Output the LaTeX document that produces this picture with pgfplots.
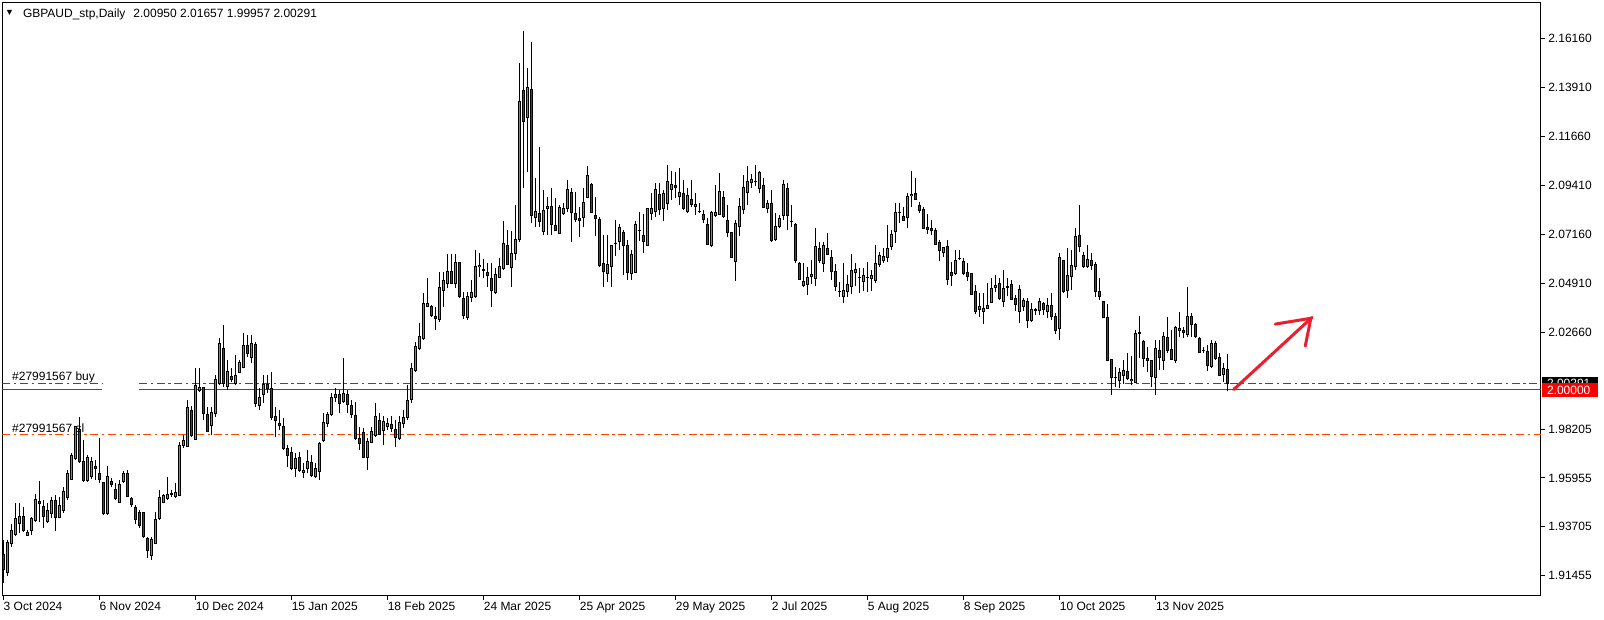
\documentclass[border=0pt]{standalone}
\usepackage{fontspec}
\setmainfont{Liberation Sans}
\usepackage{pgfplots}
\usepackage{pgfplotstable}
\pgfplotsset{compat=1.18}

\definecolor{bull}{RGB}{0,225,0}
\definecolor{bear}{RGB}{235,0,0}
\definecolor{buyline}{RGB}{0,128,0}
\definecolor{slline}{RGB}{255,69,0}
\definecolor{lvlred}{RGB}{255,0,0}
\definecolor{arrowred}{RGB}{235,30,45}

% daily candles, x = bar number from 3 Oct 2024
\pgfplotstableread{
x o h l c
0 1.9243 1.9309 1.9113 1.9174
1 1.9160 1.9309 1.9145 1.9298
2 1.9294 1.9383 1.9279 1.9352
3 1.9335 1.9481 1.9328 1.9409
4 1.9386 1.9481 1.9340 1.9417
5 1.9417 1.9463 1.9348 1.9352
6 1.9332 1.9358 1.9328 1.9344
7 1.9352 1.9417 1.9332 1.9407
8 1.9401 1.9521 1.9395 1.9496
9 1.9487 1.9581 1.9395 1.9476
10 1.9463 1.9493 1.9367 1.9420
11 1.9394 1.9478 1.9386 1.9444
12 1.9432 1.9508 1.9409 1.9492
13 1.9492 1.9516 1.9352 1.9413
14 1.9413 1.9508 1.9410 1.9469
15 1.9447 1.9555 1.9435 1.9532
16 1.9505 1.9631 1.9493 1.9616
17 1.9588 1.9711 1.9585 1.9699
18 1.9685 1.9833 1.9677 1.9830
19 1.9818 1.9876 1.9662 1.9670
20 1.9670 1.9769 1.9578 1.9585
21 1.9585 1.9700 1.9578 1.9691
22 1.9600 1.9692 1.9590 1.9670
23 1.9650 1.9680 1.9588 1.9637
24 1.9616 1.9777 1.9570 1.9588
25 1.9574 1.9578 1.9424 1.9432
26 1.9432 1.9650 1.9424 1.9604
27 1.9579 1.9593 1.9555 1.9565
28 1.9542 1.9570 1.9493 1.9501
29 1.9484 1.9585 1.9481 1.9564
30 1.9578 1.9628 1.9573 1.9616
31 1.9616 1.9634 1.9508 1.9508
32 1.9499 1.9508 1.9463 1.9473
33 1.9460 1.9470 1.9383 1.9404
34 1.9438 1.9447 1.9367 1.9378
35 1.9436 1.9441 1.9317 1.9325
36 1.9317 1.9325 1.9225 1.9260
37 1.9240 1.9325 1.9220 1.9312
38 1.9294 1.9440 1.9294 1.9404
39 1.9409 1.9539 1.9404 1.9507
40 1.9484 1.9521 1.9478 1.9513
41 1.9501 1.9601 1.9493 1.9521
42 1.9522 1.9539 1.9508 1.9520
43 1.9512 1.9570 1.9501 1.9528
44 1.9515 1.9761 1.9515 1.9743
45 1.9743 1.9792 1.9731 1.9769
46 1.9742 1.9953 1.9738 1.9919
47 1.9907 1.9925 1.9784 1.9792
48 1.9774 2.0103 1.9769 2.0021
49 1.9996 2.0103 1.9991 2.0011
50 2.0011 2.0011 1.9861 1.9892
51 1.9889 1.9922 1.9807 1.9807
52 1.9835 1.9922 1.9792 1.9896
53 1.9892 2.0068 1.9876 2.0048
54 2.0030 2.0237 2.0022 2.0214
55 2.0191 2.0298 2.0014 2.0030
56 2.0017 2.0137 1.9999 2.0083
57 2.0063 2.0099 2.0037 2.0048
58 2.0030 2.0160 2.0022 2.0068
59 2.0079 2.0137 2.0076 2.0126
60 2.0103 2.0260 2.0099 2.0206
61 2.0206 2.0252 2.0152 2.0168
62 2.0149 2.0252 2.0122 2.0214
63 2.0211 2.0221 1.9922 1.9938
64 1.9927 2.0007 1.9907 1.9965
65 1.9979 2.0068 1.9938 2.0027
66 2.0027 2.0068 1.9984 2.0007
67 2.0007 2.0083 1.9861 1.9873
68 1.9880 1.9922 1.9784 1.9858
69 1.9846 1.9907 1.9815 1.9838
70 1.9834 1.9869 1.9723 1.9731
71 1.9731 1.9746 1.9646 1.9697
72 1.9712 1.9738 1.9631 1.9639
73 1.9639 1.9708 1.9600 1.9685
74 1.9689 1.9715 1.9623 1.9631
75 1.9620 1.9662 1.9593 1.9631
76 1.9639 1.9723 1.9616 1.9669
77 1.9668 1.9700 1.9600 1.9608
78 1.9604 1.9662 1.9593 1.9639
79 1.9623 1.9761 1.9585 1.9754
80 1.9769 1.9892 1.9761 1.9850
81 1.9846 1.9899 1.9830 1.9887
82 1.9887 1.9987 1.9880 1.9965
83 1.9965 2.0011 1.9945 1.9979
84 1.9981 1.9999 1.9892 1.9938
85 1.9945 2.0145 1.9938 1.9984
86 1.9979 1.9999 1.9892 1.9935
87 1.9929 1.9956 1.9869 1.9887
88 1.9884 1.9945 1.9769 1.9777
89 1.9777 1.9830 1.9723 1.9754
90 1.9804 1.9826 1.9685 1.9688
91 1.9688 1.9777 1.9634 1.9765
92 1.9758 1.9830 1.9754 1.9807
93 1.9792 1.9938 1.9784 1.9880
94 1.9861 1.9892 1.9792 1.9797
95 1.9812 1.9880 1.9746 1.9853
96 1.9831 1.9869 1.9815 1.9846
97 1.9843 1.9880 1.9807 1.9823
98 1.9820 1.9861 1.9738 1.9781
99 1.9777 1.9880 1.9769 1.9849
100 1.9846 1.9907 1.9823 1.9873
101 1.9875 2.0022 1.9860 1.9950
102 1.9955 2.0122 1.9940 2.0099
103 2.0091 2.0222 2.0085 2.0199
104 2.0191 2.0306 2.0183 2.0245
105 2.0237 2.0444 2.0229 2.0398
106 2.0386 2.0513 2.0380 2.0398
107 2.0386 2.0390 2.0337 2.0344
108 2.0340 2.0383 2.0275 2.0329
109 2.0324 2.0544 2.0314 2.0472
110 2.0459 2.0544 2.0383 2.0505
111 2.0490 2.0625 2.0467 2.0547
112 2.0547 2.0625 2.0490 2.0490
113 2.0490 2.0625 2.0467 2.0587
114 2.0587 2.0590 2.0425 2.0429
115 2.0421 2.0452 2.0326 2.0341
116 2.0332 2.0452 2.0321 2.0432
117 2.0426 2.0508 2.0406 2.0449
118 2.0429 2.0646 2.0425 2.0570
119 2.0567 2.0628 2.0521 2.0572
120 2.0555 2.0602 2.0513 2.0551
121 2.0542 2.0582 2.0475 2.0525
122 2.0513 2.0582 2.0383 2.0456
123 2.0447 2.0563 2.0441 2.0533
124 2.0518 2.0605 2.0513 2.0570
125 2.0559 2.0777 2.0551 2.0674
126 2.0665 2.0735 2.0574 2.0577
127 2.0563 2.0732 2.0475 2.0628
128 2.0628 2.0850 2.0597 2.0694
129 2.0692 2.1502 2.0682 2.1328
130 2.1379 2.1650 2.0930 2.1233
131 2.1253 2.1479 2.1003 2.1391
132 2.1384 2.1601 2.0766 2.0801
133 2.0793 2.0977 2.0751 2.0820
134 2.0812 2.1118 2.0748 2.0774
135 2.0728 2.0919 2.0712 2.0827
136 2.0835 2.0889 2.0712 2.0846
137 2.0846 2.0927 2.0712 2.0761
138 2.0758 2.0881 2.0732 2.0732
139 2.0720 2.0850 2.0720 2.0839
140 2.0812 2.0858 2.0804 2.0835
141 2.0835 2.0965 2.0820 2.0922
142 2.0910 2.0927 2.0682 2.0815
143 2.0812 2.0910 2.0774 2.0786
144 2.0790 2.0843 2.0705 2.0780
145 2.0793 2.0927 2.0748 2.0862
146 2.0885 2.1031 2.0881 2.0988
147 2.0947 2.0950 2.0812 2.0815
148 2.0804 2.0889 2.0708 2.0789
149 2.0786 2.0797 2.0567 2.0574
150 2.0582 2.0712 2.0474 2.0543
151 2.0536 2.0712 2.0497 2.0577
152 2.0566 2.0666 2.0474 2.0663
153 2.0672 2.0781 2.0616 2.0674
154 2.0685 2.0763 2.0643 2.0747
155 2.0724 2.0735 2.0528 2.0666
156 2.0663 2.0689 2.0505 2.0540
157 2.0536 2.0643 2.0508 2.0625
158 2.0540 2.0778 2.0540 2.0761
159 2.0732 2.0819 2.0686 2.0732
160 2.0712 2.0809 2.0632 2.0681
161 2.0666 2.0839 2.0662 2.0835
162 2.0812 2.0904 2.0781 2.0835
163 2.0819 2.0950 2.0796 2.0922
164 2.0901 2.0950 2.0804 2.0830
165 2.0835 2.0922 2.0778 2.0904
166 2.0858 2.1034 2.0827 2.0957
167 2.0922 2.1008 2.0876 2.0945
168 2.0942 2.1003 2.0881 2.0931
169 2.0888 2.1019 2.0850 2.0907
170 2.0904 2.0965 2.0830 2.0835
171 2.0819 2.0927 2.0812 2.0896
172 2.0876 2.0965 2.0842 2.0853
173 2.0842 2.0904 2.0807 2.0853
174 2.0822 2.0858 2.0812 2.0822
175 2.0807 2.0827 2.0766 2.0784
176 2.0763 2.0789 2.0666 2.0671
177 2.0666 2.0824 2.0658 2.0818
178 2.0803 2.0942 2.0796 2.0818
179 2.0809 2.0999 2.0804 2.0911
180 2.0884 2.0914 2.0793 2.0796
181 2.0781 2.0850 2.0704 2.0724
182 2.0724 2.0727 2.0605 2.0608
183 2.0593 2.0781 2.0502 2.0766
184 2.0750 2.0881 2.0707 2.0842
185 2.0830 2.0988 2.0809 2.0931
186 2.0907 2.1029 2.0850 2.0957
187 2.0953 2.0993 2.0931 2.0968
188 2.0960 2.1034 2.0937 2.0961
189 2.0927 2.1008 2.0904 2.0999
190 2.0942 2.0973 2.0835 2.0839
191 2.0833 2.0876 2.0812 2.0858
192 2.0858 2.0919 2.0681 2.0686
193 2.0692 2.0812 2.0686 2.0750
194 2.0753 2.0804 2.0743 2.0789
195 2.0803 2.0968 2.0781 2.0945
196 2.0927 2.0950 2.0738 2.0803
197 2.0775 2.0850 2.0750 2.0773
198 2.0763 2.0766 2.0582 2.0594
199 2.0582 2.0589 2.0505 2.0508
200 2.0482 2.0582 2.0474 2.0501
201 2.0487 2.0566 2.0439 2.0517
202 2.0521 2.0597 2.0487 2.0531
203 2.0513 2.0743 2.0478 2.0658
204 2.0651 2.0681 2.0582 2.0597
205 2.0582 2.0681 2.0543 2.0663
206 2.0651 2.0720 2.0620 2.0625
207 2.0609 2.0646 2.0508 2.0543
208 2.0543 2.0579 2.0456 2.0477
209 2.0455 2.0497 2.0428 2.0454
210 2.0432 2.0582 2.0401 2.0456
211 2.0454 2.0528 2.0428 2.0485
212 2.0477 2.0625 2.0441 2.0551
213 2.0540 2.0582 2.0477 2.0556
214 2.0518 2.0559 2.0447 2.0517
215 2.0497 2.0559 2.0456 2.0527
216 2.0517 2.0589 2.0451 2.0518
217 2.0513 2.0551 2.0456 2.0528
218 2.0502 2.0666 2.0493 2.0582
219 2.0577 2.0635 2.0566 2.0620
220 2.0597 2.0651 2.0585 2.0612
221 2.0609 2.0758 2.0589 2.0651
222 2.0658 2.0738 2.0643 2.0717
223 2.0730 2.0861 2.0677 2.0816
224 2.0816 2.0862 2.0769 2.0817
225 2.0799 2.0842 2.0778 2.0781
226 2.0793 2.0904 2.0743 2.0891
227 2.0893 2.1006 2.0842 2.0901
228 2.0904 2.0973 2.0873 2.0876
229 2.0850 2.0865 2.0812 2.0827
230 2.0830 2.0842 2.0743 2.0743
231 2.0747 2.0809 2.0717 2.0738
232 2.0743 2.0784 2.0712 2.0732
233 2.0735 2.0743 2.0666 2.0669
234 2.0677 2.0692 2.0594 2.0640
235 2.0631 2.0658 2.0612 2.0654
236 2.0662 2.0692 2.0482 2.0508
237 2.0539 2.0589 2.0477 2.0525
238 2.0536 2.0646 2.0528 2.0597
239 2.0604 2.0646 2.0597 2.0605
240 2.0592 2.0605 2.0528 2.0536
241 2.0540 2.0582 2.0502 2.0520
242 2.0536 2.0539 2.0436 2.0439
243 2.0455 2.0482 2.0349 2.0360
244 2.0370 2.0444 2.0337 2.0386
245 2.0360 2.0444 2.0303 2.0375
246 2.0375 2.0490 2.0375 2.0389
247 2.0401 2.0513 2.0398 2.0467
248 2.0470 2.0528 2.0451 2.0482
249 2.0490 2.0513 2.0413 2.0421
250 2.0405 2.0551 2.0382 2.0467
251 2.0473 2.0517 2.0431 2.0474
252 2.0485 2.0505 2.0413 2.0418
253 2.0421 2.0436 2.0364 2.0393
254 2.0359 2.0482 2.0309 2.0462
255 2.0382 2.0425 2.0364 2.0410
256 2.0408 2.0425 2.0287 2.0321
257 2.0321 2.0398 2.0313 2.0370
258 2.0368 2.0379 2.0344 2.0367
259 2.0364 2.0421 2.0344 2.0408
260 2.0398 2.0405 2.0344 2.0370
261 2.0359 2.0421 2.0329 2.0390
262 2.0390 2.0444 2.0321 2.0339
263 2.0339 2.0355 2.0257 2.0272
264 2.0283 2.0631 2.0232 2.0609
265 2.0597 2.0597 2.0447 2.0451
266 2.0456 2.0651 2.0421 2.0528
267 2.0523 2.0643 2.0459 2.0574
268 2.0569 2.0747 2.0554 2.0707
269 2.0712 2.0850 2.0635 2.0661
270 2.0620 2.0635 2.0563 2.0569
271 2.0569 2.0666 2.0563 2.0602
272 2.0597 2.0628 2.0551 2.0574
273 2.0579 2.0589 2.0428 2.0451
274 2.0454 2.0513 2.0413 2.0428
275 2.0408 2.0408 2.0329 2.0332
276 2.0333 2.0395 2.0134 2.0137
277 2.0140 2.0140 1.9976 2.0056
278 2.0058 2.0107 2.0015 2.0057
279 2.0045 2.0103 2.0007 2.0079
280 2.0067 2.0140 2.0027 2.0091
281 2.0087 2.0168 2.0045 2.0053
282 2.0048 2.0156 2.0025 2.0042
283 2.0033 2.0278 2.0030 2.0260
284 2.0262 2.0340 2.0145 2.0263
285 2.0221 2.0229 2.0107 2.0145
286 2.0145 2.0198 2.0084 2.0134
287 2.0137 2.0137 2.0015 2.0064
288 2.0058 2.0232 1.9976 2.0191
289 2.0180 2.0229 2.0091 2.0149
290 2.0134 2.0267 2.0091 2.0248
291 2.0241 2.0336 2.0168 2.0183
292 2.0186 2.0275 2.0137 2.0140
293 2.0134 2.0294 2.0122 2.0287
294 2.0275 2.0359 2.0244 2.0284
295 2.0275 2.0290 2.0237 2.0263
296 2.0257 2.0475 2.0244 2.0336
297 2.0336 2.0355 2.0244 2.0303
298 2.0303 2.0309 2.0237 2.0248
299 2.0237 2.0244 2.0168 2.0171
300 2.0180 2.0198 2.0168 2.0180
301 2.0175 2.0206 2.0088 2.0114
302 2.0106 2.0229 2.0103 2.0214
303 2.0214 2.0226 2.0137 2.0145
304 2.0149 2.0168 2.0063 2.0068
305 2.0073 2.0122 2.0037 2.0099
306 2.0095 2.01657 1.99957 2.00291
}\gbpaud

\begin{document}
\begin{tikzpicture}[x=1pt,y=1pt]
\path[use as bounding box] (0,0) rectangle (802,310);
\begin{axis}[
    at={(1.15pt,12.2pt)}, anchor=south west,
    scale only axis, width=769.3pt, height=296.7pt,
    xmin=-0.25, xmax=384.3, ymin=1.90542, ymax=2.17839,
    axis line style={black, line width=0.5pt},
    tick style={black, line width=0.5pt},
    tick align=outside, major tick length=2pt,
    xtick pos=left, ytick pos=right, yticklabel pos=right,
    xtick={0,24,48,72,96,120,144,168,192,216,240,264,288},
    xticklabels={3 Oct 2024,6 Nov 2024,10 Dec 2024,15 Jan 2025,18 Feb 2025,24 Mar 2025,25 Apr 2025,29 May 2025,2 Jul 2025,5 Aug 2025,8 Sep 2025,10 Oct 2025,13 Nov 2025},
    ytick={1.91455,1.93705,1.95955,1.98205,2.02660,2.04910,2.07160,2.09410,2.11660,2.13910,2.16160},
    yticklabels={1.91455,1.93705,1.95955,1.98205,2.02660,2.04910,2.07160,2.09410,2.11660,2.13910,2.16160},
    tick label style={font=\fontsize{6}{7}\selectfont, inner sep=0pt},
    x tick label style={anchor=north west, yshift=-1pt},
    y tick label style={anchor=west, xshift=1.5pt},
    error bars/y dir=plus, error bars/y explicit, error bars/error mark=none,
    unbounded coords=jump,
    candle/.style={draw=none, mark=none, forget plot},
]
% order lines
\addplot[buyline, line width=0.5pt, dash pattern=on 4pt off 1.8pt on 1.2pt off 1.8pt]
    coordinates {(-0.25,2.0030) (24.7,2.0030) (25,nan) (33.9,2.0030) (384.3,2.0030)};
\addplot[lvlred, line width=0.5pt]
    coordinates {(-0.25,2.0000) (24.7,2.0000) (25,nan) (33.9,2.0000) (384.3,2.0000)};
\addplot[slline, line width=0.5pt, dash pattern=on 4pt off 1.8pt on 1.2pt off 1.8pt]
    coordinates {(-0.25,1.9797) (384.3,1.9797)};
% wicks
\addplot[candle, error bars/error bar style={black, line width=0.5pt}]
    table[x=x, y=l, y error plus expr={\thisrow{h}-\thisrow{l}}] {\gbpaud};
% body outlines
\addplot[candle, error bars/error bar style={black, line width=1.7pt}]
    table[x=x, y expr={min(\thisrow{o},\thisrow{c})-0.00023},
          y error plus expr={abs(\thisrow{c}-\thisrow{o})+0.00046}] {\gbpaud};
% body fills
\addplot[candle, error bars/error bar style={bull, line width=0.75pt}]
    table[x=x, y expr={\thisrow{c}>\thisrow{o} ? \thisrow{o}+0.00023 : 5},
          y error plus expr={max(\thisrow{c}-\thisrow{o}-0.00046,0)}] {\gbpaud};
\addplot[candle, error bars/error bar style={bear, line width=0.75pt}]
    table[x=x, y expr={\thisrow{o}>\thisrow{c} ? \thisrow{c}+0.00023 : 5},
          y error plus expr={max(\thisrow{o}-\thisrow{c}-0.00046,0)}] {\gbpaud};
% hand drawn arrow
\addplot[arrowred, line width=1.5pt, line cap=round] coordinates {(307.5,2.0002) (327.1,2.0334)};
\addplot[arrowred, line width=1.5pt, line cap=round] coordinates {(317.9,2.0303) (326.8,2.0330) (325.4,2.0202)};
\end{axis}

% chart caption and order labels
\node[anchor=base west, inner sep=0pt, font=\fontsize{4.5}{5}\selectfont] at (2.4,302.2) {▼};
\node[anchor=base west, inner sep=0pt, font=\fontsize{6}{7}\selectfont] at (11.3,301.3)
    {GBPAUD\_stp,Daily\hspace{4pt}2.00950 2.01657 1.99957 2.00291};
\node[anchor=base west, inner sep=0pt, font=\fontsize{6}{7}\selectfont] at (5.9,119.6) {\#27991567 buy};
\node[anchor=base west, inner sep=0pt, font=\fontsize{6}{7}\selectfont] at (5.9,93.9) {\#27991567 sl};

% price labels on the scale
\fill[black] (770.9,115.0) rectangle (799.2,121.5);
\node[anchor=west, inner sep=0pt, text=white, font=\fontsize{6}{7}\selectfont] at (773.3,118.25) {2.00291};
\fill[lvlred] (770.9,111.4) rectangle (799.2,118.4);
\node[anchor=west, inner sep=0pt, text=white, font=\fontsize{6}{7}\selectfont] at (773.3,114.9) {2.00000};
\end{tikzpicture}
\end{document}
